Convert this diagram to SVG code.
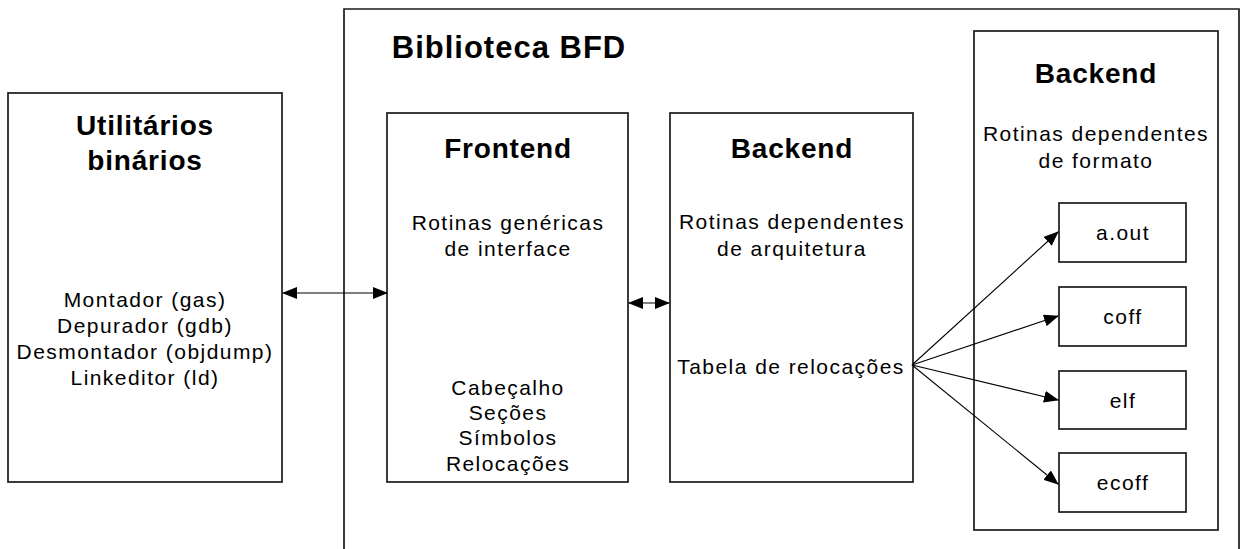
<svg xmlns="http://www.w3.org/2000/svg" width="1241" height="549" viewBox="0 0 1241 549">
<style>
.box{fill:#fff;stroke:#1a1a1a;stroke-width:1.7}
.h{font-family:"Liberation Sans",Arial,sans-serif;font-weight:bold;font-size:28px;letter-spacing:0.8px;text-anchor:middle;fill:#000}
.t{font-family:"Liberation Sans",Arial,sans-serif;font-size:21px;letter-spacing:1.45px;text-anchor:middle;fill:#000}
.c{fill:none;stroke:#000;stroke-width:1.1}
</style>
<defs>
<marker id="ah" markerUnits="userSpaceOnUse" markerWidth="15" markerHeight="12" refX="14" refY="6" orient="auto-start-reverse" viewBox="0 0 15 12">
<path d="M0,0 L15,6 L0,12 z" fill="#000"/>
</marker>
</defs>
<rect width="1241" height="549" fill="#fff"/>
<g id="bfd">
<path class="box" d="M344,549 V9 H1239 V549" style="fill:none"/>
<text class="h" x="509" y="58" style="font-size:31px;letter-spacing:1px">Biblioteca BFD</text>
</g>
<g id="utilitarios">
<rect class="box" x="8" y="93" width="274" height="389"/>
<text class="h" x="145" y="135">Utilitários</text>
<text class="h" x="145" y="170">binários</text>
<text class="t" x="145" y="307">Montador (gas)</text>
<text class="t" x="145" y="333">Depurador (gdb)</text>
<text class="t" x="145" y="359">Desmontador (objdump)</text>
<text class="t" x="145" y="385">Linkeditor (ld)</text>
</g>
<g id="frontend">
<rect class="box" x="387" y="113" width="241" height="369"/>
<text class="h" x="508" y="158">Frontend</text>
<text class="t" x="508" y="230">Rotinas genéricas</text>
<text class="t" x="508" y="256">de interface</text>
<text class="t" x="508" y="395">Cabeçalho</text>
<text class="t" x="508" y="420">Seções</text>
<text class="t" x="508" y="445">Símbolos</text>
<text class="t" x="508" y="471">Relocações</text>
</g>
<g id="backend-arq">
<rect class="box" x="670" y="113" width="243" height="369"/>
<text class="h" x="792" y="158">Backend</text>
<text class="t" x="792" y="229">Rotinas dependentes</text>
<text class="t" x="792" y="256">de arquitetura</text>
<text class="t" x="791" y="374">Tabela de relocações</text>
</g>
<g id="backend-fmt">
<rect class="box" x="974" y="31" width="244" height="499"/>
<text class="h" x="1096" y="83">Backend</text>
<text class="t" x="1096" y="141">Rotinas dependentes</text>
<text class="t" x="1096" y="168">de formato</text>
</g>
<g id="aout">
<rect class="box" x="1059" y="203" width="127" height="59"/>
<text class="t" x="1123" y="240">a.out</text>
</g>
<g id="coff">
<rect class="box" x="1059" y="287" width="127" height="59"/>
<text class="t" x="1123" y="324">coff</text>
</g>
<g id="elf">
<rect class="box" x="1059" y="371" width="127" height="58"/>
<text class="t" x="1123" y="408">elf</text>
</g>
<g id="ecoff">
<rect class="box" x="1059" y="453" width="127" height="59"/>
<text class="t" x="1123" y="490">ecoff</text>
</g>
<g id="connectors">
<line class="c" x1="283" y1="293" x2="387" y2="293" marker-start="url(#ah)" marker-end="url(#ah)"/>
<line class="c" x1="629" y1="303" x2="669" y2="303" marker-start="url(#ah)" marker-end="url(#ah)"/>
<line class="c" x1="912" y1="365" x2="1058" y2="232" marker-end="url(#ah)"/>
<line class="c" x1="912" y1="365" x2="1058" y2="316" marker-end="url(#ah)"/>
<line class="c" x1="912" y1="365" x2="1058" y2="400" marker-end="url(#ah)"/>
<line class="c" x1="912" y1="365" x2="1058" y2="484" marker-end="url(#ah)"/>
</g>
</svg>
